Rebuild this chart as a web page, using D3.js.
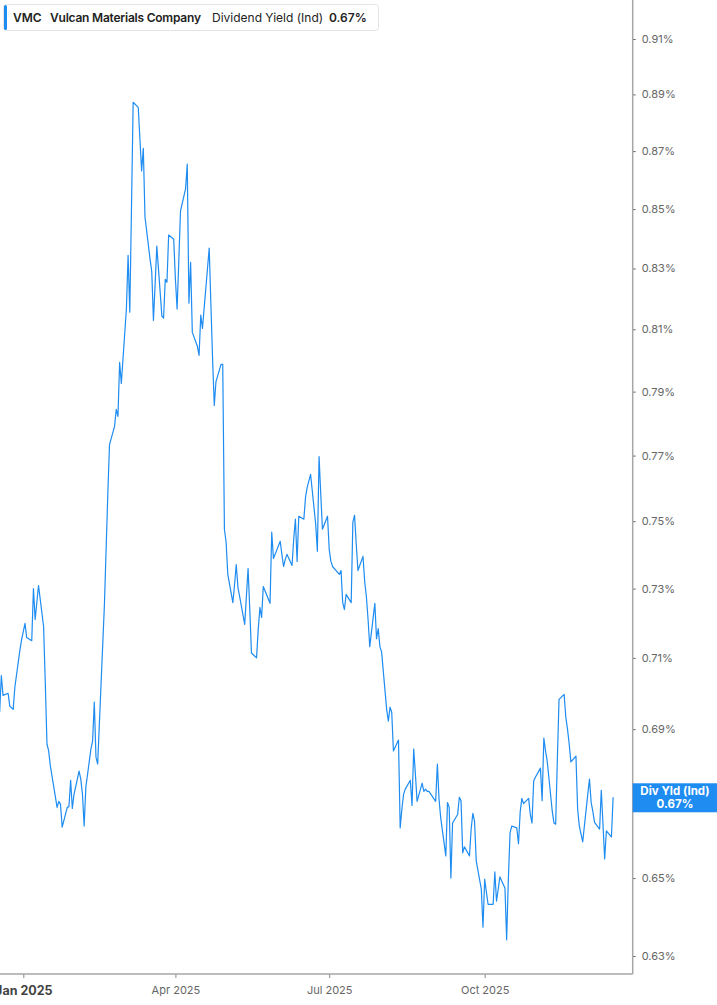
<!DOCTYPE html>
<html>
<head>
<meta charset="utf-8">
<script src="https://cdn.jsdelivr.net/npm/d3@7"></script>
<style>
  html, body { margin: 0; padding: 0; background: #fff; }
  svg { display: block; font-family: Inter, "Noto Sans", sans-serif; }
</style>
</head>
<body>
<svg id="chart" width="717" height="1005"></svg>
<script>
// ---------- data ----------
const ticker = "VMC";
const company = "Vulcan Materials Company";
const metric = "Dividend Yield (Ind)";
const badgeTitle = "Div Yld (Ind)";
const firstDate = "2024-12-18";
const holidays = ["2024-12-25","2025-01-01","2025-01-09","2025-01-20","2025-02-17",
  "2025-04-18","2025-05-26","2025-06-19","2025-07-04","2025-09-01","2025-11-27"];
// daily dividend yield (%) on trading days from firstDate
const yieldValues = [
  0.6947,0.7050,0.6994,0.7000,0.6964,
  0.6955,0.7017,0.7123,0.7152,
  0.7199,0.7158,0.7149,0.7300,
  0.7210,0.7309,0.7190,0.7030,
  0.6859,0.6840,0.6799,0.6687,
  0.6703,0.6695,0.6634,0.6687,0.6689,
  0.6760,0.6684,0.6722,0.6785,0.6763,
  0.6722,0.6637,0.6741,0.6845,0.6867,
  0.6975,0.6823,0.6804,0.7254,
  0.7416,0.7582,0.7734,0.7791,0.7844,
  0.7822,0.7993,0.7926,0.8166,0.8344,
  0.8156,0.8500,0.8872,0.8854,0.8742,
  0.8631,0.8710,0.8473,0.8331,0.8290,
  0.8129,0.8248,0.8375,0.8143,0.8136,
  0.8264,0.8254,0.8412,0.8398,0.8264,
  0.8166,0.8324,0.8493,0.8569,0.8655,
  0.8185,0.8320,0.8090,0.8045,0.8016,
  0.8146,0.8103,0.8368,0.8182,
  0.8003,0.7856,0.7932,0.7987,0.7987,
  0.7476,0.7437,0.7342,0.7259,0.7312,
  0.7371,0.7303,0.7277,0.7196,0.7277,
  0.7359,0.7239,0.7114,0.7100,0.7181,
  0.7245,0.7216,0.7306,0.7257,
  0.7467,0.7389,0.7401,0.7440,0.7401,
  0.7365,0.7386,0.7401,0.7368,0.7446,
  0.7506,0.7380,0.7515,0.7506,0.7573,
  0.7603,0.7642,0.7491,0.7410,
  0.7697,0.7582,0.7476,0.7515,0.7416,
  0.7380,0.7365,0.7342,0.7353,
  0.7259,0.7239,0.7283,0.7259,0.7497,
  0.7518,0.7431,0.7353,0.7395,0.7321,
  0.7277,0.7210,0.7132,0.7257,0.7155,
  0.7184,0.7132,0.7117,0.6955,0.6922,
  0.6961,0.6947,0.6840,0.6870,0.6632,
  0.6682,0.6722,0.6736,0.6760,0.6692,
  0.6845,0.6777,0.6703,0.6752,0.6730,
  0.6736,0.6730,0.6730,0.6703,
  0.6804,0.6708,0.6658,0.6558,0.6700,
  0.6687,0.6500,0.6645,0.6668,0.6714,
  0.6705,0.6566,0.6582,0.6558,0.6629,
  0.6671,0.6650,0.6545,0.6471,0.6373,
  0.6497,0.6464,0.6432,0.6432,0.6516,
  0.6440,0.6471,0.6503,0.6474,0.6341,
  0.6497,0.6618,0.6637,0.6632,0.6590,
  0.6674,0.6711,0.6697,0.6711,0.6668,
  0.6645,0.6758,0.6768,0.6793,0.6705,
  0.6875,0.6840,0.6812,0.6676,0.6645,
  0.6642,0.6818,0.6983,0.6997,0.6933,
  0.6900,0.6859,0.6810,0.6826,0.6682,
  0.6637,0.6595,0.6722,0.6763,
  0.6700,0.6676,0.6647,0.6629,0.6733,
  0.6642,0.6550,0.6624,0.6608,0.6714
];
const yTicks = [0.63,0.65,0.67,0.69,0.71,0.73,0.75,0.77,0.79,0.81,0.83,0.85,0.87,0.89,0.91];
const xTickDates = ["2025-01-01","2025-04-01","2025-07-01","2025-10-01"];
const xTickLabels = ["Jan 2025","Apr 2025","Jul 2025","Oct 2025"];
const lastLabel = "0.67%";

// ---------- build trading dates ----------
const parse = d3.timeParse("%Y-%m-%d");
const fmt = d3.timeFormat("%Y-%m-%d");
const holidaySet = new Set(holidays);
const dates = [];
let cur = parse(firstDate);
while (dates.length < yieldValues.length) {
  const wd = cur.getDay();
  if (wd !== 0 && wd !== 6 && !holidaySet.has(fmt(cur))) dates.push(new Date(cur));
  cur = d3.timeDay.offset(cur, 1);
}
const series = dates.map((d, i) => ({ date: d, value: yieldValues[i] }));

// ---------- layout ----------
const blue = "#1e8cf0";
const plotRight = 632.7, plotBottom = 974;
const svg = d3.select("#chart");

const x = d3.scaleTime()
  .domain([new Date(2024, 11, 18, 5), new Date(2025, 11, 27, 14)])
  .range([0, plotRight]);
const y = d3.scaleLog().domain([0.63, 0.91]).range([956, 39]);

// line
svg.append("path")
  .datum(series)
  .attr("fill", "none")
  .attr("stroke", blue)
  .attr("stroke-width", 1.2)
  .attr("stroke-linejoin", "round")
  .attr("d", d3.line().x(d => x(d.date)).y(d => y(d.value)));

// y axis (right)
const yAxis = svg.append("g")
  .attr("transform", `translate(${plotRight},0)`)
  .call(d3.axisRight(y).tickValues(yTicks).tickSize(3).tickPadding(6)
    .tickFormat(d => d.toFixed(2) + "%"));
yAxis.select(".domain").remove();
yAxis.selectAll(".tick line").attr("stroke", "#666");
yAxis.selectAll(".tick text").attr("fill", "#666").style("font-size", "11px")
  .style("font-family", "Inter, sans-serif");

// x axis (bottom)
const xAxis = svg.append("g")
  .attr("transform", `translate(0,${plotBottom})`)
  .call(d3.axisBottom(x).tickValues(xTickDates.map(parse)).tickSize(4).tickPadding(8)
    .tickFormat((d, i) => xTickLabels[i]));
xAxis.select(".domain").remove();
xAxis.selectAll(".tick line").attr("stroke", "#888");
xAxis.selectAll(".tick text")
  .attr("fill", (d, i) => i === 0 ? "#444" : "#666")
  .style("font-size", (d, i) => i === 0 ? "12.5px" : "11px")
  .style("font-weight", (d, i) => i === 0 ? "700" : "400")
  .style("font-family", "Inter, sans-serif");

// frame lines
svg.append("line").attr("x1", plotRight).attr("x2", plotRight).attr("y1", 0).attr("y2", plotBottom)
  .attr("stroke", "#a6a6a6").attr("stroke-width", 1.5);
svg.append("line").attr("x1", 0).attr("x2", plotRight).attr("y1", plotBottom).attr("y2", plotBottom)
  .attr("stroke", "#a6a6a6").attr("stroke-width", 1.5);

// last value badge
const last = series[series.length - 1];
const by = y(last.value);
const badge = svg.append("g");
badge.append("rect").attr("x", plotRight).attr("y", by - 14).attr("width", 717 - plotRight).attr("height", 29)
  .attr("fill", blue);
badge.append("text").attr("x", 675).attr("y", by - 2.5).attr("text-anchor", "middle")
  .attr("fill", "#fff").style("font-size", "11.5px").style("font-weight", "700").text(badgeTitle);
badge.append("text").attr("x", 675).attr("y", by + 10.5).attr("text-anchor", "middle")
  .attr("fill", "#fff").style("font-size", "11.5px").style("font-weight", "700").text(lastLabel);

// legend
const lg = svg.append("g");
lg.append("rect").attr("x", 3.5).attr("y", 4.5).attr("width", 375).attr("height", 26).attr("rx", 3)
  .attr("fill", "#fff").attr("stroke", "#e4e4e4");
lg.append("rect").attr("x", 4).attr("y", 5).attr("width", 3).attr("height", 25).attr("rx", 1.5).attr("fill", blue);
const lt = [
  { t: ticker, x: 13, w: 600 },
  { t: company, x: 50, w: 600 },
  { t: metric, x: 212, w: 400 },
  { t: lastLabel, x: 329, w: 600 }
];
lg.selectAll("text.lg").data(lt).enter().append("text")
  .attr("x", d => d.x).attr("y", 21.5)
  .attr("fill", "#222")
  .style("font-size", "12px")
  .style("font-weight", d => d.w)
  .attr("textLength", d => d.t === company ? 151 : null)
  .text(d => d.t);
</script>
</body>
</html>
